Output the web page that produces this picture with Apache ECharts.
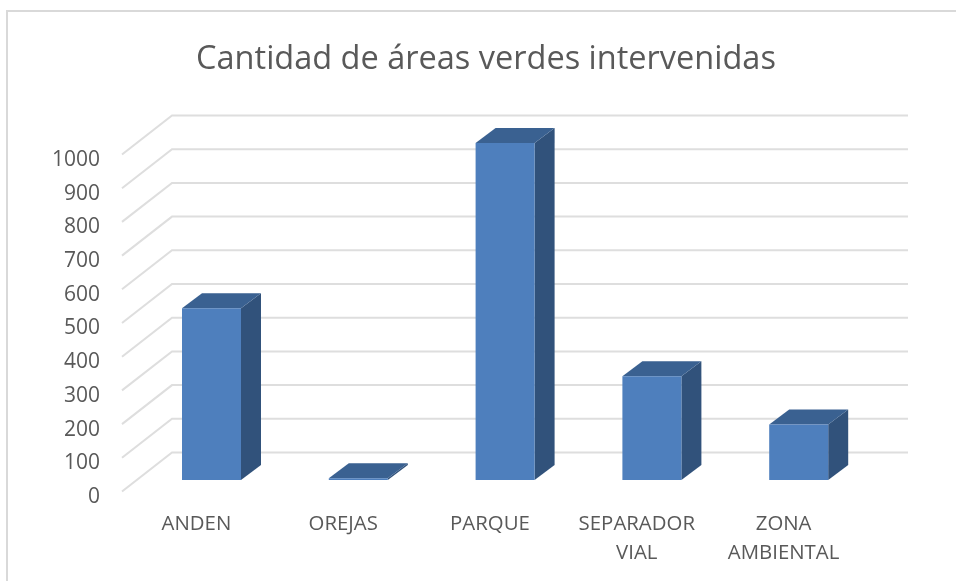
<!DOCTYPE html>
<html><head><meta charset="utf-8">
<style>html,body{margin:0;padding:0;background:#fff}#c{width:956px;height:581px;filter:blur(0.5px)}</style>
<script src="https://cdn.jsdelivr.net/npm/echarts@6/dist/echarts.min.js"></script>
</head><body><div id="c"></div>
<script>
const titleText = 'Cantidad de áreas verdes intervenidas';
const categories = ['ANDEN', 'OREJAS', 'PARQUE', 'SEPARADOR VIAL', 'ZONA AMBIENTAL'];
const values = [510, 5, 1000, 308, 165];
const yTicks = [0, 100, 200, 300, 400, 500, 600, 700, 800, 900, 1000];

const FONT = '"Open Sans", sans-serif';
const TEXT = '#595959', GRID = '#DEDEDE';
const FRONT = '#4E7FBD', TOP = '#3A6191', SIDE = '#31527B';
const WALL_DX = 49, WALL_DY = 39, BAR_W = 59, BAR_SHIFT = 15.1, BAR_LIFT = 11.5, BAR_DX = 20, BAR_DY = 15;

const chart = echarts.init(document.getElementById('c'), null, {renderer: 'canvas'});
chart.setOption({
  animation: false,
  backgroundColor: '#fff',
  title: {text: titleText, left: 481, top: 38, textAlign: 'center',
    textStyle: {fontFamily: FONT, fontSize: 32.5, fontWeight: 'normal', color: TEXT}},
  grid: {left: 123, top: 154.5, width: 734, height: 337, containLabel: false},
  xAxis: {type: 'category', data: categories,
    axisLine: {show: false}, axisTick: {show: false}, splitLine: {show: false},
    axisLabel: {interval: 0, margin: 18, fontFamily: FONT, fontSize: 20.4, color: TEXT, lineHeight: 29,
      verticalAlign: 'top', formatter: v => v.replace(' ', '\n')}},
  yAxis: {type: 'value', min: 0, max: 1000, interval: 100,
    axisLine: {show: false}, axisTick: {show: false}, splitLine: {show: false},
    axisLabel: {margin: 23, fontFamily: FONT, fontSize: 21, color: TEXT, verticalAlign: 'top', lineHeight: 11,
      formatter: v => String(v)}},
  graphic: [{type: 'polyline', silent: true, z: 0,
    shape: {points: [[7, 581], [7, 11], [956, 11]]},
    style: {stroke: '#D9D9D9', lineWidth: 2, fill: null}}],
  series: [
    {type: 'custom', silent: true, z: 1, data: yTicks.map(v => [0, v]),
     encode: {x: 0, y: 1},
     renderItem(params, api) {
       const cs = params.coordSys;
       const y = api.coord([0, api.value(1)])[1];
       return {type: 'polyline', shape: {points: [
         [cs.x - 1, y], [cs.x + WALL_DX, y - WALL_DY], [cs.x + cs.width + WALL_DX + 2, y - WALL_DY]]},
         style: {stroke: GRID, lineWidth: 2, fill: null}};
     }},
    {type: 'custom', silent: true, z: 2, data: values.map((v, i) => [i, v]),
     encode: {x: 0, y: 1},
     renderItem(params, api) {
       const top = api.coord([api.value(0), api.value(1)]);
       const base = api.coord([api.value(0), 0]);
       const l = base[0] + BAR_SHIFT - BAR_W / 2, r = l + BAR_W;
       const b = base[1] - BAR_LIFT, t = top[1] - BAR_LIFT;
       return {type: 'group', children: [
         {type: 'polygon', shape: {points: [[r, t], [r + BAR_DX, t - BAR_DY], [r + BAR_DX, b - BAR_DY], [r, b]]},
          style: {fill: SIDE}},
         {type: 'polygon', shape: {points: [[l, t], [l + BAR_DX, t - BAR_DY], [r + BAR_DX, t - BAR_DY], [r, t]]},
          style: {fill: TOP}},
         {type: 'rect', shape: {x: l, y: t, width: BAR_W, height: b - t}, style: {fill: FRONT}}
       ]};
     }}
  ]
});
</script></body></html>
